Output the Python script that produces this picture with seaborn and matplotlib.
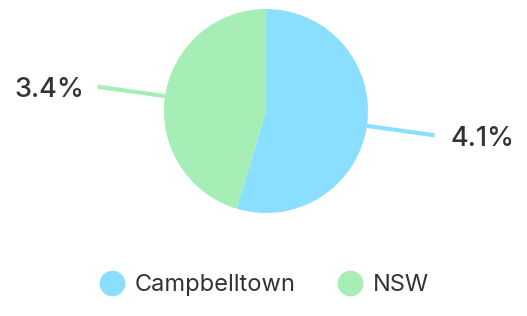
import numpy as np
import seaborn as sns
import matplotlib.pyplot as plt
from matplotlib.lines import Line2D

regions = ["Campbelltown", "NSW"]
values = [4.1, 3.4]
colors = ["#8ADFFF", "#A6EDB6"]
labels = ["4.1%", "3.4%"]

sns.set_theme(style="white")
plt.rcParams['font.family'] = ['Inter', 'DejaVu Sans']

fig = plt.figure(figsize=(5.27, 3.16), dpi=100)
ax = fig.add_axes([0, 0, 1, 1])

cx, cy, r = 266, 205, 102
wedges, _ = ax.pie(values, colors=colors, startangle=90, counterclock=False,
                   center=(cx, cy), radius=r, wedgeprops=dict(linewidth=0))
ax.set_xlim(0, 527)
ax.set_ylim(0, 316)
ax.set_aspect('equal')
ax.axis('off')

for w, lab, col in zip(wedges, labels, colors):
    ang = np.deg2rad((w.theta1 + w.theta2) / 2)
    x0, y0 = cx + r * np.cos(ang), cy + r * np.sin(ang)
    x1, y1 = cx + 1.67 * r * np.cos(ang), cy + 1.63 * r * np.sin(ang)
    ax.plot([x0, x1], [y0, y1], color=col, lw=3, solid_capstyle='butt')
    if np.cos(ang) > 0:
        ax.text(x1 + 16, y1 - 4, lab, ha='left', va='center', fontsize=19.5,
                fontweight='medium', color='#333333')
    else:
        ax.text(x1 - 13, y1 - 3, lab, ha='right', va='center', fontsize=19.5,
                fontweight='medium', color='#333333')

handles = [Line2D([], [], marker='o', linestyle='', markersize=18.5,
                  markerfacecolor=c, markeredgewidth=0) for c in colors]
leg = fig.legend(handles, regions, loc='lower center', bbox_to_anchor=(0.4985, -0.005), ncol=2,
                 frameon=False, fontsize=17, handlelength=1.3, handletextpad=0.3,
                 columnspacing=1.68, labelcolor='#333333')

fig.savefig("out.png", dpi=100)
